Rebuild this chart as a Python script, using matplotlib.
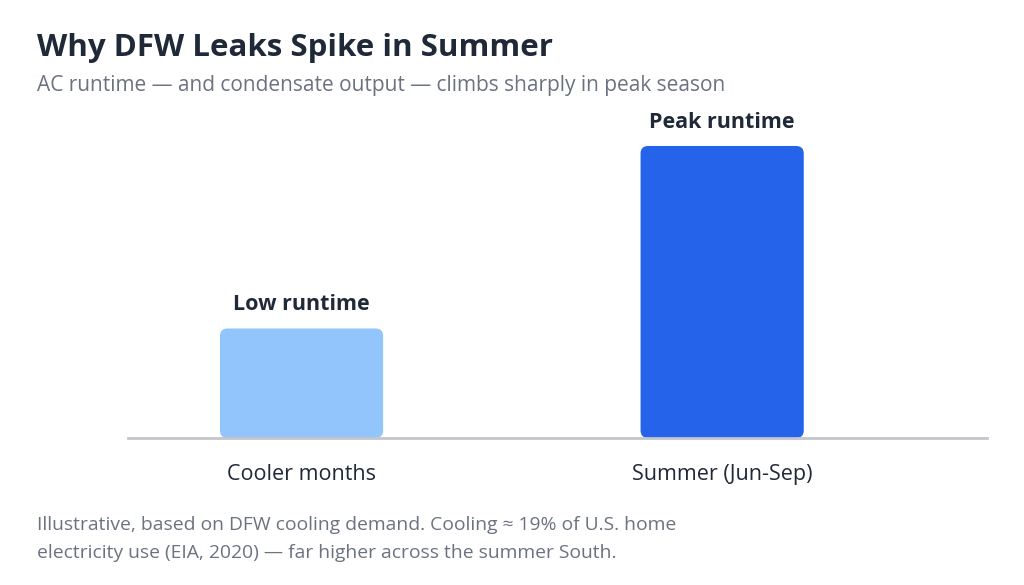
import matplotlib
matplotlib.use("Agg")
import matplotlib.pyplot as plt
from matplotlib.patches import FancyBboxPatch

categories = ["Cooler months", "Summer (Jun-Sep)"]
values = [3, 8]
bar_labels = ["Low runtime", "Peak runtime"]
colors = ["#93c5fd", "#2563eb"]

title = "Why DFW Leaks Spike in Summer"
subtitle = "AC runtime \u2014 and condensate output \u2014 climbs sharply in peak season"
footnote = ("Illustrative, based on DFW cooling demand. Cooling \u2248 19% of U.S. home\n"
            "electricity use (EIA, 2020) \u2014 far higher across the summer South.")

plt.rcParams['font.family'] = ['Open Sans', 'DejaVu Sans']

fig = plt.figure(figsize=(10.24, 5.85), dpi=100)
ax = fig.add_axes([0.125, 0.2513, 0.839, 0.5778])

x = list(range(len(categories)))
width = 0.388
bars = ax.bar(x, values, width=width, color=colors)
ax.set_xlim(-0.4126, 1.630)
ax.set_ylim(0, 9.26)

# replace bars by rounded rectangles
for b, c in zip(bars, colors):
    b.set_visible(False)
    bx, by = b.get_x(), b.get_y()
    bw, bh = b.get_width(), b.get_height()
    p = FancyBboxPatch((bx, by), bw, bh,
                       boxstyle="round,pad=0,rounding_size=0.018",
                       mutation_aspect=9.26 / 2.0426 * (859 / 338),
                       facecolor=c, edgecolor='none', zorder=2)
    ax.add_patch(p)

for xi, v, lab in zip(x, values, bar_labels):
    ax.annotate(lab, (xi, v), xytext=(0, 9.5), textcoords='offset points',
                ha='center', va='bottom', fontsize=15.5, fontweight='bold',
                color='#1f2937')

for s in ['top', 'right', 'left']:
    ax.spines[s].set_visible(False)
ax.spines['bottom'].set_color('#c4c4cc')
ax.spines['bottom'].set_linewidth(2)
ax.spines['bottom'].set_zorder(3)
ax.set_yticks([])
ax.set_xticks(x)
ax.set_xticklabels(categories, fontsize=15.5, color='#1f2937')
ax.tick_params(axis='x', length=0, pad=19)

fig.text(0.036, 0.918, title, fontsize=22.5, fontweight='bold', color='#1f2937',
         ha='left', va='center')
fig.text(0.036, 0.853, subtitle, fontsize=15, color='#6b7280',
         ha='left', va='center')
fig.text(0.036, 0.078, footnote, fontsize=13.9, color='#6b7280',
         ha='left', va='center', linespacing=1.72)

fig.savefig("out.png", dpi=100)
